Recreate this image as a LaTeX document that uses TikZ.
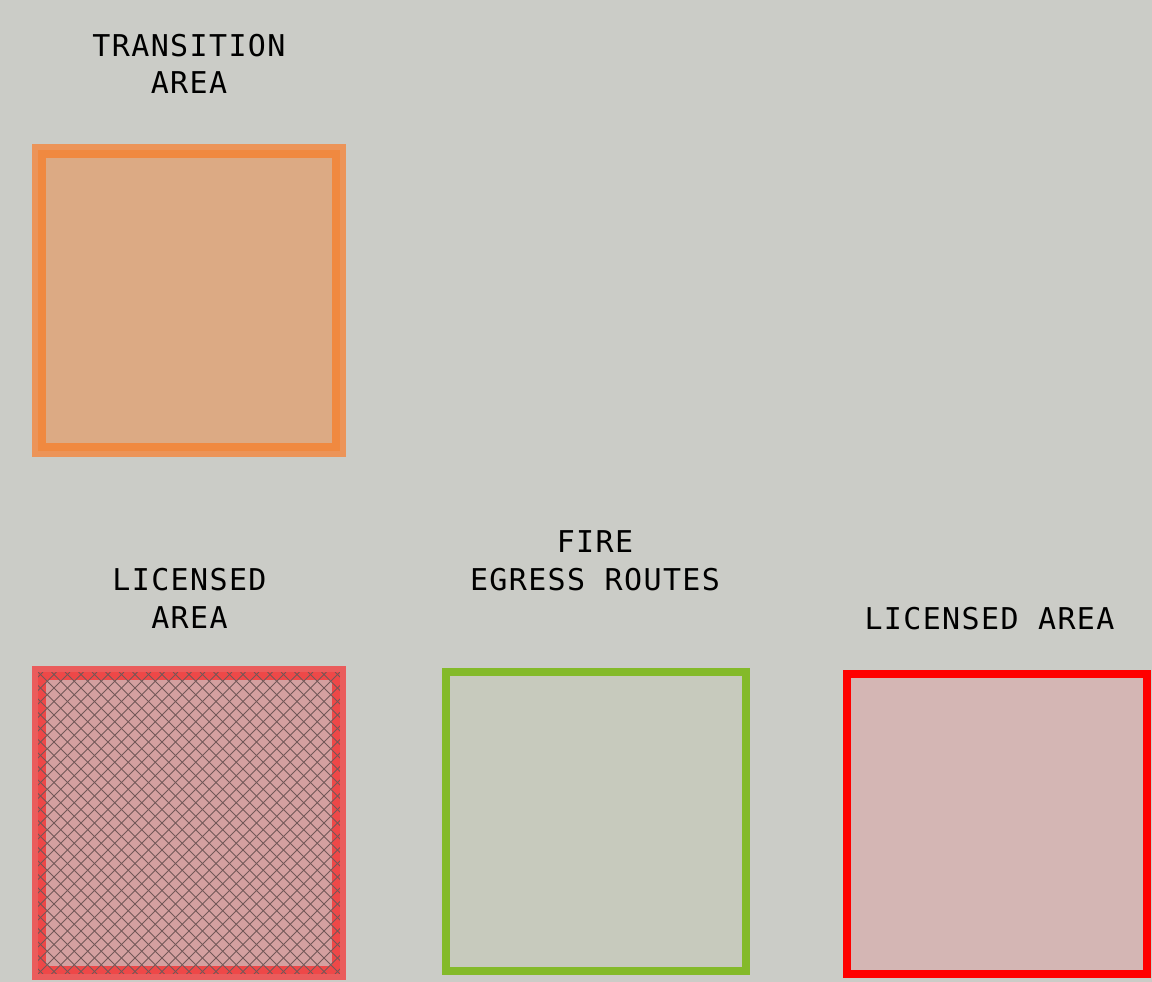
\documentclass[tikz,border=0pt]{standalone}
\usepackage{fontspec}
\newfontfamily\lblfont[LetterSpace=4.6]{DejaVu Sans Mono}
\usetikzlibrary{calc}
\definecolor{bg}{RGB}{203,204,199}
\definecolor{orlight}{RGB}{236,148,89}
\definecolor{ordark}{RGB}{240,137,64}
\definecolor{orfill}{RGB}{220,170,132}
\definecolor{rdlight}{RGB}{234,92,92}
\definecolor{rddark}{RGB}{238,72,72}
\definecolor{rdfill}{RGB}{212,160,160}
\definecolor{hatchc}{RGB}{115,88,88}
\definecolor{grstroke}{RGB}{132,186,42}
\definecolor{grfill}{RGB}{199,202,189}
\definecolor{redstroke}{RGB}{255,0,0}
\definecolor{redfill}{RGB}{212,182,180}
\tikzset{
  lbl/.style={font=\lblfont\fontsize{30}{38}\selectfont, align=center, inner sep=0pt, anchor=base},
  zone/.style={rectangle, inner sep=0pt, outer sep=0pt},
  hatchline/.style={hatchc, line width=0.9pt},
}
\begin{document}
\begin{tikzpicture}[x=1pt,y=-1pt]
\fill[bg] (0,0) rectangle (1152,982);
\useasboundingbox (0,0) rectangle (1152,982);

% transition area
\node[zone, draw=ordark, fill=orfill, line width=14pt, minimum width=300pt, minimum height=299pt] (trans) at (189,300.5) {};
\draw[orlight, line width=6pt] ($(trans.north west)+(-4,-4)$) rectangle ($(trans.south east)+(4,4)$);
\node[lbl] (translbl) at (189,94) {TRANSITION\\AREA};

% licensed area (hatched)
\node[zone, draw=rddark, fill=rdfill, line width=14pt, minimum width=300pt, minimum height=300pt] (lic) at (189,823) {};
\begin{scope}
  \clip ($(lic.north west)+(-1,-1)$) rectangle ($(lic.south east)+(1,1)$);
  \foreach \i in {-324,-310.5,...,324} {
    \draw[hatchline] (38+\i,672) -- ++(302,302);
    \draw[hatchline] (38+\i,974) -- ++(302,-302);
  }
\end{scope}
\draw[rdlight, line width=6pt] ($(lic.north west)+(-4,-4)$) rectangle ($(lic.south east)+(4,4)$);
\node[lbl] (liclbl) at (189.5,628) {LICENSED\\AREA};

% fire egress routes
\node[zone, draw=grstroke, fill=grfill, line width=8pt, minimum width=300pt, minimum height=299pt] (fire) at (596,821.5) {};
\node[lbl] (firelbl) at (595,590) {FIRE\\EGRESS ROUTES};

% licensed area (plain)
\node[zone, draw=redstroke, fill=redfill, line width=8pt, minimum width=300pt, minimum height=300pt] (lic2) at (997,824) {};
\node[lbl] (lic2lbl) at (989.5,629) {LICENSED AREA};
\end{tikzpicture}
\end{document}
